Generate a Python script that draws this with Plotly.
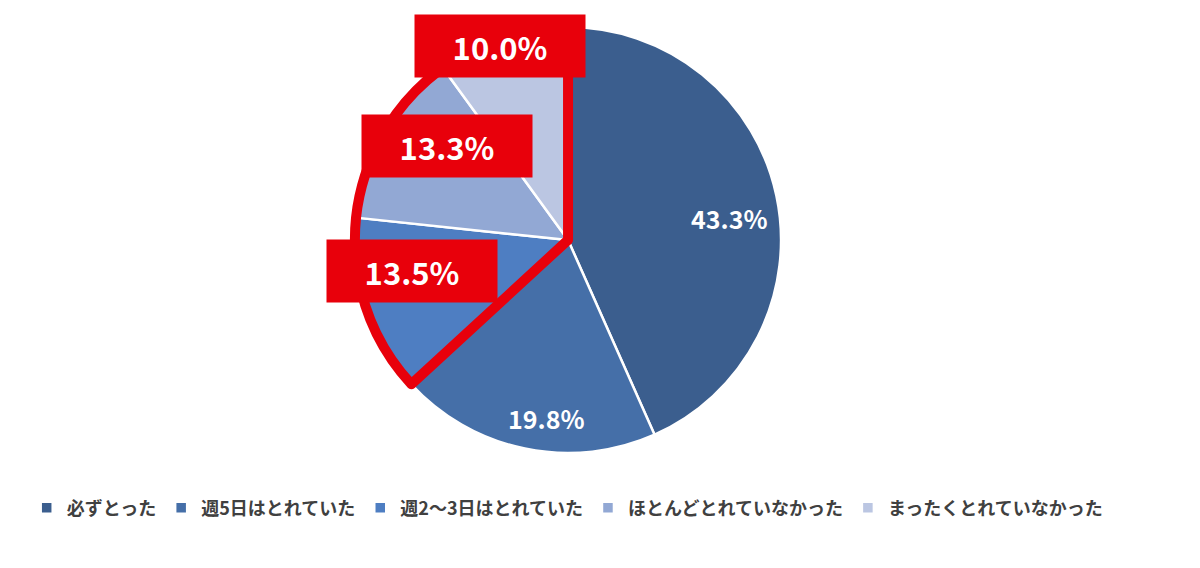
import plotly.graph_objects as go

labels = ["必ずとった", "週5日はとれていた", "週2～3日はとれていた", "ほとんどとれていなかった", "まったくとれていなかった"]
values = [43.3, 19.8, 13.5, 13.3, 10.0]
colors = ["#3B5E8E", "#456FA8", "#4E7EC2", "#92A8D4", "#BBC6E2"]

# highlighted group (last three categories)
group_values = [values[0] + values[1], values[2] + values[3] + values[4]]

RED = "#E8000B"
dom_x = [0.2892, 0.6442]
dom_y = [0.2165, 0.9665]

fig = go.Figure()
fig.add_trace(go.Pie(
    labels=labels, values=values, sort=False, direction="clockwise", rotation=0,
    marker=dict(colors=colors, line=dict(color="white", width=2.5)),
    textinfo="none",
    domain=dict(x=dom_x, y=dom_y), hoverinfo="skip",
))
fig.add_trace(go.Pie(
    labels=["a", "b"], values=group_values, sort=False, direction="clockwise", rotation=0,
    marker=dict(colors=["rgba(0,0,0,0)", "rgba(0,0,0,0)"],
                line=dict(color=["rgba(0,0,0,0)", RED], width=10)),
    textinfo="none", showlegend=False, hoverinfo="skip",
    domain=dict(x=dom_x, y=dom_y),
))

# in-slice labels for the two large slices
inside_pos = [(721, 210), (538, 410)]
for v, (cx, cy) in zip(values[:2], inside_pos):
    fig.add_annotation(
        x=cx / 1200, y=1 - cy / 568, xref="paper", yref="paper",
        text=f"{v:.1f}%", showarrow=False, xanchor="center", yanchor="middle",
        font=dict(family="Noto Sans CJK JP", size=25, color="white", weight="bold"),
    )

# red call-out boxes for the three small slices (10.0, 13.3, 13.5)
box_pos = [(492, 38), (439, 138), (404, 263)]
for v, (cx, cy) in zip([values[4], values[3], values[2]], box_pos):
    fig.add_annotation(
        x=cx / 1200, y=1 - cy / 568, xref="paper", yref="paper",
        text=f"{v:.1f}%", showarrow=False, width=170, height=62,
        bgcolor=RED, borderpad=0, xanchor="center", yanchor="middle",
        font=dict(family="Noto Sans CJK JP", size=31, color="white", weight="bold"),
    )

fig.update_layout(
    width=1200, height=568, margin=dict(l=0, r=0, t=0, b=0),
    paper_bgcolor="white", plot_bgcolor="white",
    legend=dict(orientation="h", x=0.466, xanchor="center", y=1 - 500 / 568, yanchor="middle",
                font=dict(family="Noto Sans CJK JP", size=18, color="#404040", weight="bold"),
                itemwidth=30, traceorder="normal"),
)
fig.write_html("out.html")
